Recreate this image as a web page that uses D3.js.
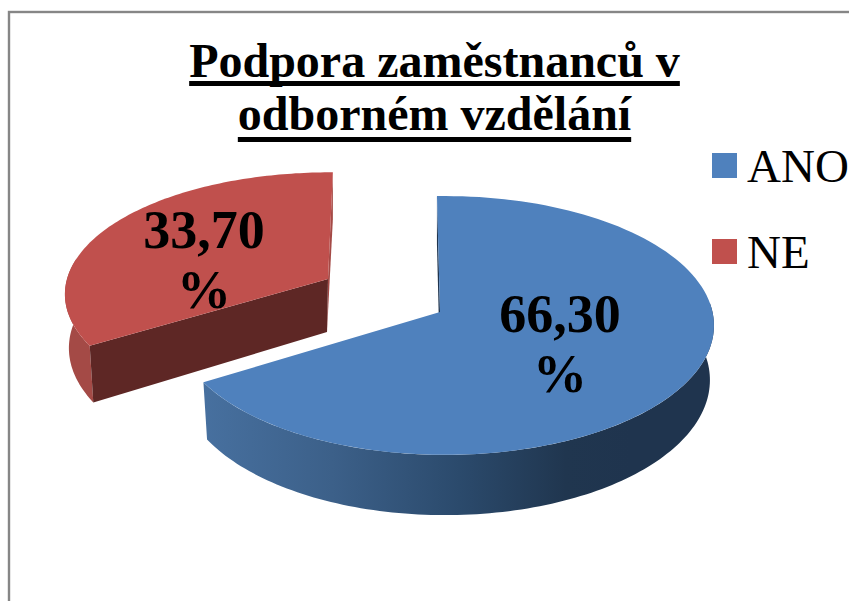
<!DOCTYPE html>
<html lang="cs">
<head>
<meta charset="utf-8">
<script src="https://cdn.jsdelivr.net/npm/d3@7"></script>
<style>
html,body{margin:0;padding:0;background:#fff;overflow:hidden}
text{font-family:"Liberation Serif","Times New Roman",serif;fill:#000}
</style>
</head>
<body>
<svg id="chart" width="849" height="601"></svg>
<script>
const categories = ["ANO", "NE"];
const seriesValues = [66.3, 33.7];
const dataLabels = [["66,30", "%"], ["33,70", "%"]];
const titleLines = ["Podpora zaměstnanců v", "odborném vzdělání"];
const topColors = ["#4F81BD", "#C0504D"];

const svg = d3.select("#chart");
const defs = svg.append("defs");
const grad = defs.append("linearGradient").attr("id", "blueSide")
  .attr("gradientUnits", "userSpaceOnUse")
  .attr("x1", 204).attr("x2", 630).attr("y1", 0).attr("y2", 0);
[[0, "#47709F"], [0.3, "#3C6089"], [0.6, "#2B4A6C"], [0.85, "#20364F"], [1, "#1F344E"]]
  .forEach(([o, c]) => grad.append("stop").attr("offset", o).attr("stop-color", c));

svg.append("rect").attr("x", 9).attr("y", 12).attr("width", 900).attr("height", 700)
  .attr("fill", "#fff").attr("stroke", "#868686").attr("stroke-width", 2.4);

const pieLayout = d3.pie().sort(null).value(d => d);
const arcs = pieLayout(seriesValues);

// perspective disc: unit circle on the table mapped to the screen
function projector(g) {
  return function (theta, lower) {
    const u = Math.sin(theta), v = -Math.cos(theta);
    const s = 1 / (1 - g.k * v);
    const shrink = lower ? 0.985 : 1;
    return [g.cx + g.a * u * s * shrink, g.y0 + g.b * v * s + (lower ? g.depth * s : 0)];
  };
}
const line = d3.line();
function ring(proj, t0, t1, lower) {
  return d3.range(0, 121).map(i => proj(t0 + (t1 - t0) * i / 120, lower));
}

const deg = Math.PI / 180;
const blue = { cx: 445, a: 267.5, y0: 312, b: 128, k: 0.104, depth: 54, apexX: 440 };
const red = { cx: 330, a: 263, y0: 279, b: 120, k: 0.125, depth: 53, apexX: 328 };
const g = svg.append("g");

// ---- red slice (exploded)
(function () {
  const p = projector(red);
  const start = arcs[1].startAngle, end = arcs[1].endAngle + 0.7 * deg;
  const apexT = [red.apexX, red.y0], apexB = [red.apexX - 1, red.y0 + red.depth];
  // thin far cut face
  g.append("path").attr("fill", "#A44A46")
    .attr("d", line([p(end, false), [p(end, false)[0], p(end, true)[1]], apexB, apexT]) + "Z");
  // outer rim
  const rimEnd = 280 * deg;
  g.append("path").attr("fill", "#A44A46")
    .attr("d", line(ring(p, start, rimEnd, false).concat(ring(p, start, rimEnd, true).reverse())) + "Z");
  // near cut face
  g.append("path").attr("fill", "#5E2725")
    .attr("d", line([apexT, p(start, false), p(start, true), apexB]) + "Z");
  // top
  g.append("path").attr("fill", topColors[1])
    .attr("d", line([apexT].concat(ring(p, start, end, false))) + "Z");
})();

// ---- blue slice
(function () {
  const p = projector(blue);
  const start = arcs[0].startAngle - 1.9 * deg, end = arcs[0].endAngle;
  const apexT = [blue.apexX, blue.y0], apexB = [blue.apexX, blue.y0 + blue.depth];
  // rim
  const rimStart = 86 * deg;
  g.append("path").attr("fill", "url(#blueSide)")
    .attr("d", line(ring(p, rimStart, end, false).concat(ring(p, rimStart, end, true).reverse())) + "Z");
  // near cut sliver at the back
  g.append("path").attr("fill", "#1F344E")
    .attr("d", line([p(start, false), [p(start, false)[0], p(start, true)[1]], apexB, apexT]) + "Z");
  // top
  g.append("path").attr("fill", topColors[0])
    .attr("d", line([apexT].concat(ring(p, start, end, false))) + "Z");
})();

// ---- data labels
const labelPos = [[560, 332, 392], [204, 248, 308]];
dataLabels.forEach((lines, i) => {
  lines.forEach((t, j) => {
    svg.append("text").attr("x", labelPos[i][0]).attr("y", labelPos[i][j + 1])
      .attr("text-anchor", "middle").attr("font-size", 54).attr("font-weight", "bold").text(t);
  });
});

// ---- title
[[77, 81], [130, 137]].forEach(([by, uy], i) => {
  const t = svg.append("text").attr("x", 434.5).attr("y", by)
    .attr("text-anchor", "middle").attr("font-size", 48).attr("font-weight", "bold").text(titleLines[i]);
  const w = t.node().getComputedTextLength();
  svg.append("rect").attr("x", 434.5 - w / 2).attr("y", uy).attr("width", w).attr("height", 5).attr("fill", "#000");
});

// ---- legend
const legendY = d3.scalePoint().domain(categories).range([153, 239]);
categories.forEach((c, i) => {
  svg.append("rect").attr("x", 712).attr("y", legendY(c)).attr("width", 25).attr("height", 25).attr("fill", topColors[i]);
  svg.append("text").attr("x", 747).attr("y", legendY(c) + 29).attr("font-size", 47).text(c);
});
</script>
</body>
</html>
